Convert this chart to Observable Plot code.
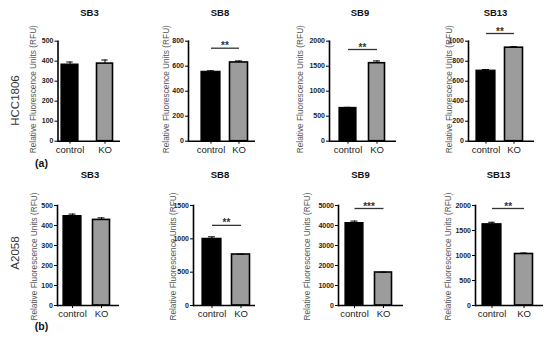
<!DOCTYPE html>
<html><head><meta charset="utf-8">
<script src="https://cdn.jsdelivr.net/npm/d3@7"></script>
<script src="https://cdn.jsdelivr.net/npm/@observablehq/plot@0.6"></script>
<style>
body{margin:0;background:#fff}
#chart{position:relative;width:550px;height:339px;overflow:hidden;background:#fff}
#chart svg{position:absolute;left:0;top:0}
</style>
</head><body><div id="chart"></div>
<script>
// ---- data ----
const cellLines = ["HCC1806", "A2058"];
const panelLetters = ["(a)", "(b)"];
const genes = ["SB3", "SB8", "SB9", "SB13"];
const groups = ["control", "KO"];
const yLabel = "Relative Fluorescence Units (RFU)";

const controlMeanA = [383, 555, 665, 705];
const controlErrA  = [13, 8, 12, 12];
const koMeanA      = [388, 630, 1560, 935];
const koErrA       = [18, 12, 45, 10];

const controlMeanB = [447, 1000, 4120, 1625];
const controlErrB  = [10, 30, 100, 40];
const koMeanB      = [428, 765, 1650, 1030];
const koErrB       = [10, 5, 15, 20];

const yTicksA = [[0,100,200,300,400,500],[0,200,400,600,800],[0,500,1000,1500,2000],[0,200,400,600,800,1000]];
const yTicksB = [[0,100,200,300,400,500],[0,500,1000,1500],[0,1000,2000,3000,4000,5000],[0,500,1000,1500,2000]];

const sigA = ["", "**", "**", "**"];
const sigLevelA = [null, 744, 1834, 1077];
const sigB = ["", "**", "***", "**"];
const sigLevelB = [null, 1202, 4850, 1940];

// ---- layout (pixels) ----
const rowTop = [40.7, 205], rowBottom = [140.7, 305];
const layout = [
  [ {x0:57.5,x1:120,barL:61,barR:114,barW:17.5,title:89,ylab:33},
    {x0:188,x1:255,barL:201,barR:248,barW:19,title:219.5,ylab:165.5},
    {x0:329,x1:396,barL:339,barR:385,barW:17,title:359.5,ylab:299.5},
    {x0:468,x1:534,barL:476,barR:523,barW:19,title:495,ylab:449} ],
  [ {x0:57,x1:119,barL:63,barR:110,barW:18,title:89.5,ylab:33.5},
    {x0:193,x1:255,barL:202,barR:250,barW:19,title:219.5,ylab:173},
    {x0:338,x1:403,barL:345,barR:392,barW:18,title:360,ylab:306.5},
    {x0:475,x1:543,barL:482,barR:534,barW:19.5,title:498,ylab:448} ]
];
const titleY = [12.3, 174];
const font = "'Liberation Sans', Arial, Helvetica, sans-serif";

function panel(row, i) {
  const L = layout[row][i];
  const cm = row ? controlMeanB : controlMeanA, ce = row ? controlErrB : controlErrA;
  const km = row ? koMeanB : koMeanA, ke = row ? koErrB : koErrA;
  const ticks = (row ? yTicksB : yTicksA)[i];
  const ymax = ticks[ticks.length - 1];
  const sig = (row ? sigB : sigA)[i], lvl = (row ? sigLevelB : sigLevelA)[i];
  const data = [
    {group: groups[0], mean: cm[i], err: ce[i]},
    {group: groups[1], mean: km[i], err: ke[i]}
  ];
  const D = L.barR - L.barL, w = L.barW;
  const pin = (D - 2 * w) / (D - w);
  const step = D - w;
  const top = rowTop[row], bottom = rowBottom[row];
  const marks = [
    Plot.barY(data, {x: "group", y: "mean", filter: d => d.group === "control", fill: "#000", stroke: "#000", strokeWidth: 1.2}),
    Plot.barY(data, {x: "group", y: "mean", filter: d => d.group === "KO", fill: "#9c9c9c", stroke: "#000", strokeWidth: 1.6, insetLeft: 0.5, insetRight: 0.5}),
    Plot.ruleX(data, {x: "group", y1: "mean", y2: d => d.mean + d.err, stroke: "#000", strokeWidth: 1}),
    Plot.tickY(data, {x: "group", y: d => d.mean + d.err, stroke: "#000", strokeWidth: 1, insetLeft: w / 2 - 3.5, insetRight: w / 2 - 3.5}),
    Plot.ruleY([0], {stroke: "#000", strokeWidth: 1.4}),
    Plot.frame({anchor: "left", stroke: "#000", strokeWidth: 1.6}),
    Plot.axisY({ticks, tickSize: 3, tickPadding: 1.5, fontSize: 7, fontWeight: "bold", label: null, tickFormat: d => String(d), stroke: "#000", fill: "#222"}),
    Plot.axisX({tickSize: 3, tickPadding: 2, fontSize: 9.5, label: null, stroke: "#000", fill: "#222"}),
    Plot.text([genes[i]], {frameAnchor: "top-left", dx: L.title - L.x0, dy: titleY[row] - top, text: d => d, textAnchor: "middle", lineAnchor: "middle", fontSize: 9.5, fontWeight: "bold", fill: "#111"}),
    Plot.text([yLabel], {frameAnchor: "left", dx: L.ylab - L.x0, dy: row ? 1 : -2, text: d => d, rotate: -90, textAnchor: "middle", lineAnchor: "middle", fontSize: 8.3, fill: "#555"})
  ];
  if (sig) {
    marks.push(
      Plot.link([lvl], {x1: () => groups[0], x2: () => groups[1], y1: d => d, y2: d => d, stroke: "#333", strokeWidth: 1.3}),
      Plot.text([sig], {x: () => groups[0], y: () => lvl, dx: step / 2, dy: 1, text: d => d, textAnchor: "middle", lineAnchor: "bottom", fontSize: 10, fontWeight: "bold", fill: "#333"})
    );
  }
  if (i === 0) {
    marks.push(
      Plot.text([cellLines[row]], {frameAnchor: "top-left", dx: 15 - L.x0, dy: (row ? 252.5 : 100) - top, text: d => d, rotate: -90, textAnchor: "middle", lineAnchor: "middle", fontSize: 11.5, fill: "#333"}),
      Plot.text([panelLetters[row]], {frameAnchor: "top-left", dx: 41 - L.x0, dy: (row ? 326 : 163) - top, text: d => d, textAnchor: "middle", lineAnchor: "middle", fontSize: 10.5, fontWeight: "bold", fill: "#111"})
    );
  }
  return Plot.plot({
    width: 550, height: 339,
    marginLeft: L.x0, marginRight: 550 - L.x1, marginTop: top, marginBottom: 339 - bottom,
    x: {domain: groups, range: [L.barL, L.barR], paddingInner: pin, paddingOuter: 0},
    y: {domain: [0, ymax]},
    style: {background: "transparent", overflow: "visible", fontFamily: font},
    marks
  });
}

const chart = document.getElementById("chart");
for (let r = 0; r < 2; r++) for (let i = 0; i < 4; i++) chart.appendChild(panel(r, i));
</script></body></html>
